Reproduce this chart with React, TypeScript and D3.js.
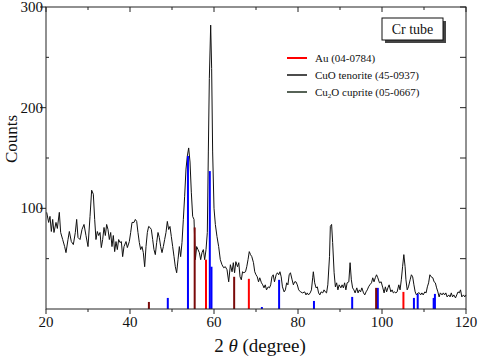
import React from 'react';
import * as d3 from 'd3';

// measured pattern: 2θ (degree) and counts
const twoTheta = [
  20.16, 20.63, 20.95, 21.27, 21.59, 21.9, 22.38, 22.7, 23.17, 23.49,
  23.97, 24.44, 24.76, 25.24, 25.56, 26.03, 26.51, 26.98, 27.3, 27.62,
  28.1, 28.57, 29.05, 29.52, 30.0, 30.48, 30.87, 31.27, 31.59, 31.9,
  32.22, 32.54, 32.86, 33.17, 33.49, 33.81, 34.13, 34.44, 34.76, 35.08,
  35.4, 35.71, 36.03, 36.35, 36.67, 36.98, 37.3, 37.62, 37.94, 38.25,
  38.57, 39.05, 39.37, 39.84, 40.16, 40.48,
  40.95, 41.27, 41.59, 41.9, 42.22, 42.54, 42.86, 43.17, 43.49, 43.81,
  44.13, 44.44, 44.76, 45.08, 45.4, 45.71, 46.03, 46.35, 46.67, 46.98,
  47.3, 47.62, 47.94, 48.25, 48.57, 48.89, 49.21, 49.52, 49.84, 50.16,
  50.48, 50.79, 51.11, 51.43, 51.75, 52.06, 52.38, 52.7, 53.01, 53.33,
  53.65, 53.97, 54.29, 54.6, 54.92, 55.24, 55.56, 55.87, 56.19, 56.51,
  56.83, 57.14, 57.46, 57.78, 58.1, 58.41, 58.65, 58.89, 59.21, 59.44,
  59.68, 60.0, 60.32,
  60.71, 61.11, 61.5, 61.9, 62.3, 62.7, 63.1, 63.5, 63.9, 64.3,
  64.6, 64.9, 65.2, 65.6, 65.9, 66.2, 66.5, 66.8, 67.1, 67.5,
  67.8, 68.1, 68.4, 68.7, 69.0, 69.4, 69.7, 70.0, 70.3, 70.6,
  70.9, 71.3, 71.6, 71.9, 72.2, 72.5, 72.9, 73.2, 73.5, 73.8,
  74.1, 74.4, 74.8, 75.1, 75.4, 75.7, 76.0, 76.3, 76.7, 77.0,
  77.3, 77.6, 77.9, 78.2, 78.6, 78.9, 79.2,
  79.52, 79.84, 80.16, 80.6, 81.1, 81.6, 81.9, 82.2, 82.5, 82.9,
  83.2, 83.5, 83.65, 83.97, 84.3, 84.6, 84.9, 85.2, 85.5, 85.9,
  86.2, 86.5, 86.8, 87.1, 87.5, 87.7, 88.0, 88.25, 88.6, 88.9,
  89.2, 89.5, 89.8, 90.2, 90.5, 90.8, 91.1, 91.4, 91.7, 92.1,
  92.4, 92.7, 93.0, 93.3, 93.6, 94.0, 94.3, 94.6, 94.9, 95.2,
  95.6, 95.9, 96.2, 96.5, 96.8, 97.1, 97.5, 97.8, 98.1, 98.4,
  98.7, 99.0, 99.4,
  99.8, 100.2, 100.5, 100.8, 101.1, 101.4, 101.7, 102.1, 102.4, 102.7,
  103.0, 103.3, 103.6, 104.0, 104.3, 104.6, 104.9, 105.2, 105.5, 105.7,
  106.0, 106.3, 106.7, 107.0, 107.3, 107.6, 107.9, 108.2, 108.6, 108.9,
  109.2, 109.5, 109.8, 110.2, 110.5, 110.8, 111.1, 111.4, 111.7, 112.1,
  112.4, 112.7, 113.0, 113.3, 113.6, 113.9, 114.3, 114.6, 114.9, 115.2,
  115.5, 115.9, 116.2, 116.5, 116.8, 117.1, 117.5, 117.8, 118.1, 118.4,
  118.7, 119.0, 119.4, 119.7, 120.0,
];

const counts = [
  96, 86, 92, 77, 89, 76, 86, 80, 96, 76,
  69, 62, 56, 69, 77, 67, 64, 76, 89, 71,
  69, 79, 84, 73, 62, 92, 118, 114, 89, 69,
  77, 73, 76, 61, 69, 81, 73, 84, 79, 69,
  76, 62, 73, 57, 67, 59, 69, 66, 67, 52,
  62, 67, 61, 67, 76, 86,
  86, 89, 87, 76, 66, 59, 62, 56, 42, 62,
  76, 82, 81, 79, 69, 59, 54, 66, 76, 71,
  62, 56, 62, 69, 76, 87, 79, 82, 72, 62,
  52, 42, 36, 49, 62, 52, 66, 89, 112, 139,
  152, 160, 146, 116, 92, 89, 49, 62, 59, 56,
  49, 56, 59, 49, 59, 76, 156, 229, 282, 239,
  156, 100, 84,
  72, 62, 49, 44, 41, 42, 39, 27, 44, 37,
  46, 36, 47, 42, 46, 32, 29, 37, 36, 37,
  42, 49, 57, 54, 52, 46, 37, 34, 32, 27,
  31, 26, 24, 21, 24, 19, 22, 21, 24, 32,
  34, 27, 34, 36, 34, 37, 32, 22, 17, 19,
  26, 24, 34, 36, 29, 24, 27,
  27, 24, 19, 17, 16, 17, 14, 16, 14, 16,
  19, 31, 37, 26, 21, 22, 16, 14, 17, 16,
  19, 17, 16, 24, 52, 82, 84, 66, 36, 22,
  26, 19, 24, 21, 24, 21, 26, 19, 26, 27,
  46, 29, 21, 19, 16, 21, 16, 19, 17, 21,
  16, 14, 17, 19, 22, 24, 26, 31, 27, 31,
  34, 31, 26,
  27, 21, 16, 22, 17, 21, 24, 17, 19, 16,
  17, 16, 17, 24, 19, 29, 42, 54, 42, 29,
  19, 22, 29, 34, 32, 24, 17, 14, 16, 16,
  14, 16, 14, 17, 16, 22, 26, 34, 32, 31,
  27, 26, 21, 17, 12, 16, 14, 16, 14, 16,
  12, 14, 12, 16, 12, 14, 11, 14, 17, 16,
  19, 12, 14, 12, 14,
];

// reference patterns (stick positions and heights)
const auPos = [58.1, 68.3, 105.1];
const auHeight = [49, 30, 17];
const cuoPos = [49.0, 53.8, 59.0, 59.4, 71.4, 75.5, 83.8, 92.9, 99.0, 107.6, 108.5, 112.3, 112.6];
const cuoHeight = [11, 152, 137, 42, 2, 29, 8, 12, 21, 11, 15, 11, 15];
const cu2oPos = [44.5, 55.4, 64.8, 98.6];
const cu2oHeight = [7, 81, 32, 21];

const xTicks = [20, 30, 40, 50, 60, 70, 80, 90, 100, 110, 120];
const xLabels = [20, 40, 60, 80, 100, 120];
const yTicks = [50, 100, 150, 200, 250, 300];
const yLabels = [100, 200, 300];

const W = 480;
const H = 358;
const margin = { top: 7, right: 14, bottom: 49, left: 46 };
const font = '"Liberation Serif", "Times New Roman", serif';

export default function App() {
  const x = d3.scaleLinear().domain([20, 120]).range([margin.left, W - margin.right]);
  const y = d3.scaleLinear().domain([0, 300]).range([H - margin.bottom, margin.top]);

  const line = d3.line<number>()
    .x(i => x(twoTheta[i]))
    .y(i => y(counts[i]));
  const path = line(d3.range(twoTheta.length)) || '';

  const sticks = (pos: number[], hgt: number[], color: string, key: string) =>
    pos.map((p, i) => (
      <line key={key + i} x1={x(p)} x2={x(p)} y1={y(0)} y2={y(hgt[i])}
        stroke={color} strokeWidth={2} />
    ));

  const x0 = x(20), x1 = x(120), y0 = y(0), y1 = y(300);

  return (
    <svg width={W} height={H} style={{ position: 'absolute', left: 0, top: 0, background: '#fff' }}
      fontFamily={font}>
      <rect x={0} y={0} width={W} height={H} fill="#fff" />

      <path d={path} fill="none" stroke="#111" strokeWidth={1} />

      {sticks(auPos, auHeight, '#ff0000', 'au')}
      {sticks(cuoPos, cuoHeight, '#0000ff', 'cuo')}
      {sticks(cu2oPos, cu2oHeight, '#7a0a0a', 'cu2o')}

      {/* frame */}
      <rect x={x0} y={y1} width={x1 - x0} height={y0 - y1} fill="none" stroke="#222" strokeWidth={1} />

      {/* x ticks */}
      {xTicks.map(t => {
        const major = xLabels.includes(t);
        return (
          <g key={'xt' + t}>
            <line x1={x(t)} x2={x(t)} y1={y0} y2={y0 + (major ? 5 : 3)} stroke="#222" />
            <line x1={x(t)} x2={x(t)} y1={y1} y2={y1 + (major ? 5 : 3)} stroke="#222" />
          </g>
        );
      })}
      {xLabels.map(t => (
        <text key={'xl' + t} x={x(t)} y={327} textAnchor="middle" fontSize={15} fill="#111">{t}</text>
      ))}

      {/* y ticks */}
      {yTicks.map(t => {
        const major = yLabels.includes(t);
        return (
          <g key={'yt' + t}>
            {major
              ? <line x1={x0 - 6} x2={x0} y1={y(t)} y2={y(t)} stroke="#222" />
              : <line x1={x0} x2={x0 + 3} y1={y(t)} y2={y(t)} stroke="#222" />}
            <line x1={x1 - 6} x2={x1} y1={y(t)} y2={y(t)} stroke="#222" />
          </g>
        );
      })}
      {yLabels.map(t => (
        <text key={'yl' + t} x={x0 - 3} y={y(t) + 5} textAnchor="end" fontSize={15} fill="#111">{t}</text>
      ))}

      {/* axis titles */}
      <text x={260} y={352} textAnchor="middle" fontSize={19} fill="#111">
        2 <tspan fontStyle="italic">θ</tspan> (degree)
      </text>
      <text transform={`translate(17,${139}) rotate(-90)`} textAnchor="middle" fontSize={17} fill="#111">Counts</text>

      {/* Cr tube box */}
      <rect x={385} y={21} width={61} height={22} fill="#444" />
      <rect x={382} y={18} width={61} height={22} fill="#fff" stroke="#111" strokeWidth={1} />
      <text x={412.5} y={34} textAnchor="middle" fontSize={14} fill="#111">Cr tube</text>

      {/* legend */}
      <line x1={287} x2={307} y1={58} y2={58} stroke="#ff0000" strokeWidth={2} />
      <text x={315} y={62} fontSize={11} fill="#111">Au (04-0784)</text>
      <line x1={287} x2={307} y1={75} y2={75} stroke="#111" strokeWidth={1.5} />
      <text x={315} y={79} fontSize={11} fill="#111">CuO tenorite (45-0937)</text>
      <line x1={287} x2={307} y1={92} y2={92} stroke="#1f2f1f" strokeWidth={1.5} />
      <text x={315} y={96} fontSize={11} fill="#111">
        Cu<tspan fontSize={7} dy={2}>2</tspan><tspan dy={-2}>O cuprite (05-0667)</tspan>
      </text>
    </svg>
  );
}
